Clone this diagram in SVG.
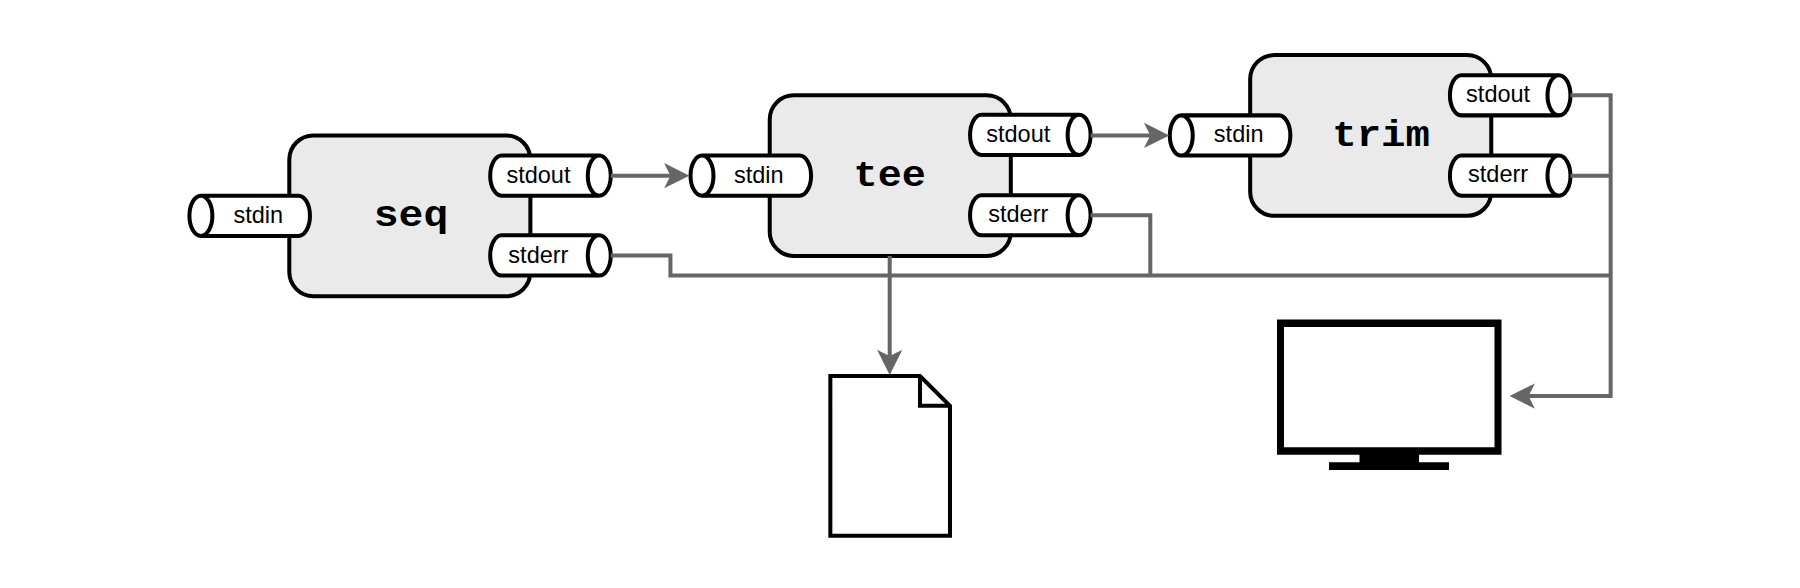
<svg xmlns="http://www.w3.org/2000/svg" xmlns:xlink="http://www.w3.org/1999/xlink" width="1800" height="588" viewBox="0 0 1800 588">
<style>
.box{fill:#eaeaea;stroke:#000;stroke-width:3.500}
.cyl{fill:#fff;stroke:#000;stroke-width:3.500;stroke-linejoin:round}
.lbl{font-family:"Liberation Sans",Arial,sans-serif;font-size:20.500px;fill:#000;text-anchor:middle}
.ttl{font-family:"Liberation Mono","Courier New",monospace;font-size:32px;font-weight:bold;fill:#000;text-anchor:middle}
.wire{fill:none;stroke:#666;stroke-width:3.500;stroke-linejoin:miter}
.paper{fill:#fff;stroke:#000;stroke-width:3.500;stroke-linejoin:miter}
</style>
<defs>
<marker id="arr" markerUnits="userSpaceOnUse" markerWidth="26" markerHeight="26" refX="14" refY="13" orient="auto">
<path d="M0,2 L22,13 L0,24 L5.500,13 Z" fill="#666"/>
</marker>
<g id="cylL"><path class="cyl" d="M10,0 H95 C100.500,0 105,7.800 105,17.500 C105,27.200 100.500,35 95,35 H10 C4.500,35 0,27.200 0,17.500 C0,7.800 4.500,0 10,0 Z M10,0 C15.500,0 20,7.800 20,17.500 C20,27.200 15.500,35 10,35"/></g>
<g id="cylR"><path class="cyl" d="M95,0 H10 C4.500,0 0,7.800 0,17.500 C0,27.200 4.500,35 10,35 H95 C100.500,35 105,27.200 105,17.500 C105,7.800 100.500,0 95,0 Z M95,0 C89.500,0 85,7.800 85,17.500 C85,27.200 89.500,35 95,35"/></g>
</defs>
<rect width="1800" height="588" fill="#fff"/>
<g transform="scale(1.148)">
<g id="seq">
<rect class="box" x="252" y="118" width="210" height="140" rx="21"/>
<text class="ttl" x="358" y="197" textLength="65" lengthAdjust="spacingAndGlyphs">seq</text>
<use xlink:href="#cylL" x="165" y="170.500"/><text class="lbl" x="225" y="194">stdin</text>
<use xlink:href="#cylR" x="427" y="135.500"/><text class="lbl" x="469" y="159">stdout</text>
<use xlink:href="#cylR" x="427" y="205"/><text class="lbl" x="469" y="228.800">stderr</text>
</g>
<g id="tee">
<rect class="box" x="670.500" y="83" width="210" height="140" rx="21"/>
<text class="ttl" x="775" y="162" textLength="63" lengthAdjust="spacingAndGlyphs">tee</text>
<use xlink:href="#cylL" x="601.500" y="135.500"/><text class="lbl" x="661" y="159">stdin</text>
<use xlink:href="#cylR" x="845" y="100"/><text class="lbl" x="887" y="124">stdout</text>
<use xlink:href="#cylR" x="845" y="170"/><text class="lbl" x="887" y="193.800">stderr</text>
</g>
<g id="trim">
<rect class="box" x="1089" y="48" width="210" height="140" rx="21"/>
<text class="ttl" x="1203" y="127" textLength="85" lengthAdjust="spacingAndGlyphs">trim</text>
<use xlink:href="#cylL" x="1019" y="100.500"/><text class="lbl" x="1079" y="124">stdin</text>
<use xlink:href="#cylR" x="1263" y="65.500"/><text class="lbl" x="1305" y="89">stdout</text>
<use xlink:href="#cylR" x="1263" y="135.500"/><text class="lbl" x="1305" y="158.800">stderr</text>
</g>
<g id="file">
<path class="paper" d="M723.300,327.500 H801.400 L827.500,353.500 V466.600 H723.300 Z M801.400,327.500 V353.500 H827.500"/>
</g>
<g id="connectors">
<path class="wire" marker-end="url(#arr)" d="M532,153 H592.500"/>
<path class="wire" marker-end="url(#arr)" d="M950,118 H1010.500"/>
<path class="wire" marker-end="url(#arr)" d="M775,223 V318.700"/>
<path class="wire" d="M532,222.500 H584 V240 H1403"/>
<path class="wire" d="M950,187.500 H1002 V240"/>
<path class="wire" d="M1368,153 H1403"/>
<path class="wire" marker-end="url(#arr)" d="M1368,83 H1403 V345 H1323"/>
</g>
</g>
<g id="monitor">
<path fill="#000" fill-rule="evenodd" d="M1277,319.500 H1501.500 V454.800 H1419 V462.300 H1449 V470 H1329 V462.300 H1359.500 V454.800 H1277 Z M1284,327 V447.300 H1494.500 V327 Z"/>
</g>
</svg>
